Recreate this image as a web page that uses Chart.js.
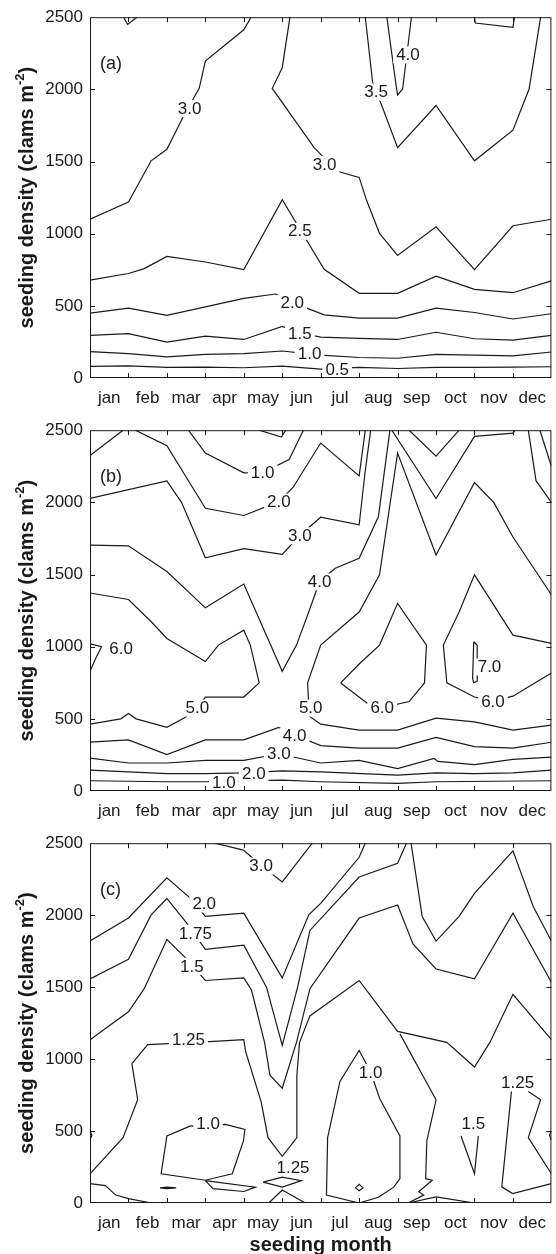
<!DOCTYPE html>
<html>
<head>
<meta charset="utf-8">
<script src="https://cdn.jsdelivr.net/npm/chart.js@4.4.1/dist/chart.umd.min.js"></script>
<style>
  html, body { margin: 0; padding: 0; background: #fff; }
  #wrap { position: relative; width: 556px; height: 1254px; }
  canvas { position: absolute; left: 0; }
</style>
</head>
<body>
<div id="wrap">
  <canvas id="chartA" width="556" height="413" style="top:0px"></canvas>
  <canvas id="chartB" width="556" height="413" style="top:413px"></canvas>
  <canvas id="chartC" width="556" height="428" style="top:826px"></canvas>
</div>
<script>
// --- axis labels ---
const months = ["jan", "feb", "mar", "apr", "may", "jun", "jul", "aug", "sep", "oct", "nov", "dec"];
const densityTicks = [0, 500, 1000, 1500, 2000, 2500];

// --- contour lines, [month, density] (month 0 = start of jan) ---
const linesA = [
  [[0,1100],[1,1220],[1.59,1505],[2,1585],[2.42,1808],[2.84,2007],[3,2196],[4,2413],[4.19,2500]],
  [[0.87,2500],[0.98,2450],[1.22,2500]],
  [[5.2,2500],[5.0,2150],[4.74,2007],[5.83,1596],[6.43,1432],[7,1390],[7.2,1226],[7.53,1002],[8,849],[9,1048],[10,751],[11,1055],[12,1100]],
  [[7.16,2500],[7.35,2050],[7.6,1880],[8,1596],[9,1888],[10,1505],[11,1717],[11.42,2002],[11.72,2500]],
  [[7.72,2500],[7.95,2048],[8,1961],[8.13,2002],[8.36,2500]],
  [[10,2500],[10.02,2460],[11,2430],[11.04,2500]],
  [[0,678],[1,724],[1.41,758],[2,842],[3,804],[4,751],[5,1235],[6.09,753],[7,587],[8,587],[9,705],[10,614],[11,591],[12,673]],
  [[0,450],[1,484],[2,434],[4,552],[4.82,582],[5.25,535],[5.64,484],[6.09,438],[7,415],[8,415],[9,484],[10,454],[11,409],[12,445]],
  [[0,295],[1,308],[2,249],[3,290],[4,267],[5,358],[5.5,310],[6,283],[7,275],[8,267],[9,317],[10,272],[11,263],[12,295]],
  [[0,183],[1,169],[2,146],[3,164],[4,169],[5,187],[6,158],[7,142],[8,137],[9,164],[10,158],[11,153],[12,180]],
  [[0,80],[1,84],[2,73],[3,75],[4,71],[5,82],[6,62],[7,73],[8,66],[9,73],[10,73],[11,75],[12,78]]
];
const labelsA = [
  ["3.0",2.59,1870],["3.0",6.1,1482],["3.5",7.44,1984],["4.0",8.27,2242],["2.5",5.46,1020],
  ["2.0",5.26,523],["1.5",5.46,313],["1.0",5.71,169],["0.5",6.43,57]
];

const linesB = [
  [[0,2324],[0.86,2500]],
  [[1.18,2500],[2,2393],[3,1959],[4,1909],[4.91,2005],[5.28,2103],[6,2411],[7,2183],[7.16,2500]],
  [[2.56,2500],[3,2342],[4,2205],[4.49,2206],[5.18,2297],[5.55,2500]],
  [[4.4,2500],[4.98,2452],[5.09,2500]],
  [[0,2027],[2,2148],[2.38,2000],[3,1616],[4,1680],[5,1639],[5.46,1772],[6,1897],[7,1845],[7.15,2200],[7.3,2500]],
  [[0,1703],[1,1699],[2,1521],[3,1269],[4,1434],[5,829],[5.37,1011],[5.69,1240],[5.97,1452],[6.38,1543],[7,1612],[7.5,1900],[7.8,2500]],
  [[0,463],[0.8,500],[1,537],[1.2,500],[2,441],[2.47,509],[2.79,578],[3,651],[4,651],[4.4,749],[4.17,1011],[4,1114],[3.34,1011],[3,897],[2,1057],[1.6,1171],[1,1327],[0,1372]],
  [[0,1020],[0.3,1000],[0.15,920],[0,830]],
  [[12,457],[11,422],[10,479],[9,505],[8,422],[7,422],[6,463],[5.7,520],[5.66,749],[6,1011],[7,1240],[7.53,1498],[8,2342],[9,1635],[10,2137],[10.5,2000],[11,1760],[12,1360]],
  [[6.52,749],[7,880],[7.53,1011],[8,1300],[8.75,1011],[8.7,749],[8.3,620],[7.6,578],[7.2,610],[6.52,749]],
  [[12,1023],[11,1080],[10,1498],[9.6,1240],[9.19,1011],[9.28,749],[10,651],[10.48,623],[11,657],[12,817]],
  [[9.98,1034],[10.07,1010],[10.07,760],[9.98,750],[9.95,780],[9.98,1034]],
  [[0,338],[1,354],[2,253],[3,354],[4,354],[4.91,441],[5.3,390],[6,315],[7,297],[8,297],[9,372],[10,308],[11,297],[12,338]],
  [[0,228],[1,194],[2,194],[3,212],[4,212],[4.91,258],[6,194],[7,212],[8,155],[8.95,225],[9.05,205],[10,183],[11,219],[12,235]],
  [[0,144],[1,132],[2,121],[3,121],[4,126],[5,139],[6,132],[8,110],[9,126],[10,121],[11,126],[12,144]],
  [[0,71],[2,64],[3,64],[4,71],[5,75],[6,64],[8,53],[9,64],[12,71]],
  [[8.3,2500],[9,2320],[9.6,2500]],
  [[7.85,2500],[9,2027],[10,2457],[11,2480],[11.05,2500]],
  [[11.4,2500],[11.6,2150],[12,2000]],
  [[11.7,2500],[12,2250]]
];
const labelsB = [
  ["1.0",4.49,2206],["2.0",4.91,2005],["3.0",5.46,1772],["4.0",5.97,1452],["6.0",0.81,989],
  ["5.0",2.79,578],["5.0",5.74,578],["6.0",7.6,578],["6.0",10.48,623],["7.0",10.39,863],
  ["4.0",5.32,384],["3.0",4.91,258],["2.0",4.26,126],["1.0",3.48,59]
];

const linesC = [
  [[3.25,2500],[3.99,2452],[4.45,2345],[5,2231],[5.78,2500]],
  [[0,1820],[1,1980],[2,2260],[2.6,2120],[3,1991],[4,2014],[5,1564],[5.69,2002],[6,2082],[7,2402],[7.16,2500]],
  [[0,1557],[1,1694],[1.59,2002],[2,2116],[2.5,1950],[3,1763],[4,1792],[4.59,1500],[5,1095],[5.4,1500],[5.72,1894],[7,2265],[8,2361],[8.23,2500]],
  [[8.35,2500],[8.64,1991],[9,1820],[9.6,1991],[10,2151],[11,2447],[11.53,2059],[12,1820]],
  [[0,1135],[1,1329],[1.41,1489],[2,1831],[2.5,1700],[3,1546],[4,1564],[4.2,1480],[4.54,1116],[4.68,888],[5,797],[5.37,1116],[5.72,1489],[7,1980],[8,2071],[8.4,1800],[9,1626],[10,1557],[11,2014],[12,1534]],
  [[0,203],[0.86,454],[1.24,718],[1.09,968],[1.5,1100],[3,1120],[4,1135],[4.05,1050],[4.45,705],[4.63,454],[5,324],[5.38,454],[5.38,888],[5.45,1116],[5.72,1300],[7,1546],[8,1192],[9.28,1116],[10,945],[10.4,1116],[11,1450],[12,1135]],
  [[8.06,1175],[9,717],[8.76,431],[8.73,169],[8.9,158],[8.55,78],[8.68,55],[8.27,0]],
  [[2.6,534],[2.0,466],[1.85,203],[3,158],[3.7,203],[3.99,431],[4.03,511],[3.52,546],[2.6,534]],
  [[1.82,105],[2,110],[2.24,105],[2,100],[1.82,105]],
  [[0,135],[0.4,121],[0.67,55],[1,30],[1.6,0]],
  [[3,155],[4.3,110],[4,80],[3.2,100],[3,155]],
  [[4.5,145],[5,180],[5.5,155],[5,110],[4.5,145]],
  [[4.65,0],[5,90],[5.6,0]],
  [[7,0],[6.15,55],[6.18,454],[6.5,845],[7,1060],[7.3,911],[7.53,728],[8.06,466],[8.06,169],[7.9,110],[7.5,40],[7,0]],
  [[6.9,105],[7,130],[7.1,105],[7,85],[6.9,105]],
  [[9.65,466],[10,203],[10.1,466]],
  [[10.96,774],[10.71,112],[10.99,66],[12,135]],
  [[11.4,774],[11.72,717],[11.4,454],[12,203]],
  [[8.27,0],[9,43],[10,0]],
  [[0,440],[0.05,470],[0,500]],
  [[12,440],[11.95,470],[12,500]]
];
const labelsC = [
  ["3.0",4.45,2345],["2.0",2.97,2082],["1.75",2.74,1877],["1.5",2.65,1648],["1.25",2.56,1135],
  ["1.0",3.07,557],["1.25",5.28,249],["1.0",7.3,911],["1.5",9.97,557],["1.25",11.12,842]
];

// --- drawing helpers ---
const FONT = "'Liberation Sans', Arial, sans-serif";
const INK = "#1a1a1a";

const contourLabels = {
  id: "contourLabels",
  afterDatasetsDraw(chart, args, opts) {
    const { ctx, scales: { x, y } } = chart;
    ctx.save();
    ctx.font = "17px " + FONT;
    ctx.textAlign = "center";
    ctx.textBaseline = "middle";
    opts.items.forEach(([txt, mx, dy]) => {
      const px = x.getPixelForValue(mx);
      const py = y.getPixelForValue(dy);
      const w = ctx.measureText(txt).width;
      ctx.fillStyle = "#fff";
      ctx.fillRect(px - w / 2 - 3, py - 8, w + 6, 17);
      ctx.fillStyle = INK;
      ctx.fillText(txt, px, py + 1);
    });
    ctx.restore();
  },
};

const frame = {
  id: "frame",
  afterDraw(chart, args, opts) {
    const { ctx, chartArea: { left, right, top, bottom }, scales: { x, y } } = chart;
    ctx.save();
    ctx.strokeStyle = INK;
    ctx.lineWidth = 1;
    ctx.strokeRect(left + 0.5, top + 0.5, right - left - 1, bottom - top - 1);
    // inward tick marks
    ctx.beginPath();
    for (let m = 1; m < 12; m++) {
      const px = Math.round(x.getPixelForValue(m)) + 0.5;
      ctx.moveTo(px, bottom); ctx.lineTo(px, bottom - 5);
      ctx.moveTo(px, top); ctx.lineTo(px, top + 5);
    }
    densityTicks.slice(1, -1).forEach((d) => {
      const py = Math.round(y.getPixelForValue(d)) + 0.5;
      ctx.moveTo(left, py); ctx.lineTo(left + 5, py);
      ctx.moveTo(right, py); ctx.lineTo(right - 5, py);
    });
    ctx.stroke();

    // panel letter
    ctx.fillStyle = INK;
    ctx.font = "18px " + FONT;
    ctx.textAlign = "left";
    ctx.textBaseline = "middle";
    ctx.fillText(opts.letter, left + 10, top + 47);

    // y title with superscript
    const cy = (top + bottom) / 2;
    ctx.translate(27, cy);
    ctx.rotate(-Math.PI / 2);
    const main = "seeding density (clams m";
    const sup = "-2";
    ctx.font = "bold 20px " + FONT;
    const w1 = ctx.measureText(main).width;
    const w3 = ctx.measureText(")").width;
    ctx.font = "bold 13px " + FONT;
    const w2 = ctx.measureText(sup).width;
    let sx = -(w1 + w2 + w3) / 2;
    ctx.font = "bold 20px " + FONT;
    ctx.fillText(main, sx, 0);
    ctx.font = "bold 13px " + FONT;
    ctx.fillText(sup, sx + w1, -7);
    ctx.font = "bold 20px " + FONT;
    ctx.fillText(")", sx + w1 + w2, 0);
    ctx.setTransform(1, 0, 0, 1, 0, 0);

    if (opts.xTitle) {
      ctx.font = "bold 20px " + FONT;
      ctx.textAlign = "center";
      ctx.fillText(opts.xTitle, (left + right) / 2, bottom + 42);
    }
    ctx.restore();
  },
};

function makePanel(id, lines, labels, letter, padTop, xTitle) {
  const canvas = document.getElementById(id);
  const H = canvas.height;
  const datasets = lines.map((pts) => ({
    data: pts.map(([m, d]) => ({ x: m, y: d })),
    showLine: true,
    borderColor: INK,
    borderWidth: 1.2,
    pointRadius: 0,
    tension: 0,
    fill: false,
  }));
  return new Chart(canvas, {
    type: "scatter",
    data: { datasets },
    options: {
      responsive: false,
      animation: false,
      devicePixelRatio: 1,
      layout: { padding: { top: padTop, right: 3, left: 0, bottom: 0 } },
      plugins: {
        legend: { display: false },
        tooltip: { enabled: false },
        contourLabels: { items: labels },
        frame: { letter, xTitle },
      },
      scales: {
        x: {
          type: "linear",
          min: 0,
          max: 12,
          grid: { display: false, drawTicks: false },
          border: { display: false },
          afterFit: (s) => { s.height = H - padTop - 364; },
          afterBuildTicks: (s) => { s.ticks = months.map((_, i) => ({ value: i + 0.5 })); },
          ticks: {
            autoSkip: false,
            maxRotation: 0,
            padding: 10,
            color: INK,
            font: { family: FONT, size: 17 },
            callback: (v) => months[Math.floor(v)],
          },
        },
        y: {
          type: "linear",
          min: 0,
          max: 2500,
          grid: { display: false, drawTicks: false },
          border: { display: false },
          afterFit: (s) => { s.width = 90; },
          afterBuildTicks: (s) => { s.ticks = densityTicks.map((v) => ({ value: v })); },
          ticks: {
            padding: 7,
            color: INK,
            font: { family: FONT, size: 17 },
            callback: (v) => String(v),
          },
        },
      },
    },
    plugins: [contourLabels, frame],
  });
}

makePanel("chartA", linesA, labelsA, "(a)", 14, null);
makePanel("chartB", linesB, labelsB, "(b)", 14, null);
makePanel("chartC", linesC, labelsC, "(c)", 13, "seeding month");
</script>
</body>
</html>
